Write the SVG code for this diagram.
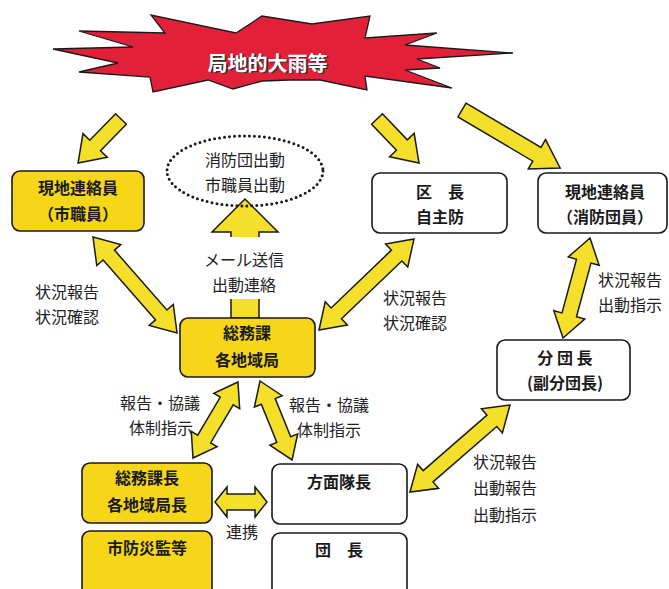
<svg xmlns="http://www.w3.org/2000/svg" width="669" height="589" viewBox="0 0 669 589">
<style>
.box{stroke:#1a1a1a;stroke-width:1.6}
.y{fill:#f5d618}
.w{fill:#ffffff}
.arr{fill:#f4df2a;stroke:#1a1a1a;stroke-width:1.5;stroke-linejoin:miter}
.t{font-family:"Noto Sans CJK JP","Noto Sans CJK SC",sans-serif;font-size:16px;fill:#1a1a1a;text-anchor:middle}
.b{font-weight:700}
.l{font-family:"Noto Sans CJK JP","Noto Sans CJK SC",sans-serif;font-size:16px;fill:#222;text-anchor:middle}
</style>
<rect width="669" height="589" fill="#ffffff"/>
<g id="star">
<polygon points="53,49 133,47 79,31 165,33 151,15 236,33 262,16 312,24 370,16 365,38 437,33 405,45 513,53 417,59 440,68 405,70 452,88 365,76 367,90 320,80 290,80 262,81 233,89 208,80 153,92 150,77 79,72 118,63" fill="#e3203a" stroke="#1a1a1a" stroke-width="1.3" stroke-linejoin="miter"/>
<text x="269" y="72" font-family="'Noto Sans CJK JP',sans-serif" font-size="20" font-weight="700" fill="#333" text-anchor="middle">局地的大雨等</text>
<text x="267.5" y="70.5" font-family="'Noto Sans CJK JP',sans-serif" font-size="20" font-weight="700" fill="#ffffff" text-anchor="middle">局地的大雨等</text>
</g>
<g id="connectors">
<path class="arr" transform="translate(121,119) rotate(134.3)" d="M0,-7.5 L37,-7.5 L37,-17 L61.5,0 L37,17 L37,7.5 L0,7.5Z"/>
<path class="arr" transform="translate(377,119) rotate(46.3)" d="M0,-7.5 L36,-7.5 L36,-17 L60.8,0 L36,17 L36,7.5 L0,7.5Z"/>
<path class="arr" transform="translate(462,110) rotate(30.6)" d="M0,-8 L87,-8 L87,-17 L114,0 L87,17 L87,8 L0,8Z"/>
<path class="arr" transform="translate(93,237) rotate(48.8)" d="M0,0 L24,-16 L24,-7.5 L103.6,-7.5 L103.6,-16 L127.6,0 L103.6,16 L103.6,7.5 L24,7.5 L24,16Z"/>
<path class="arr" transform="translate(319,330) rotate(-43.8)" d="M0,0 L24,-16 L24,-7.5 L107.6,-7.5 L107.6,-16 L131.6,0 L107.6,16 L107.6,7.5 L24,7.5 L24,16Z"/>
<path class="arr" transform="translate(563,338) rotate(-74.9)" d="M0,0 L24,-16 L24,-7.5 L79.6,-7.5 L79.6,-16 L103.6,0 L79.6,16 L79.6,7.5 L24,7.5 L24,16Z"/>
<path class="arr" transform="translate(410,492) rotate(-41)" d="M0,0 L24,-16 L24,-7.5 L108.5,-7.5 L108.5,-16 L132.5,0 L108.5,16 L108.5,7.5 L24,7.5 L24,16Z"/>
<path class="arr" transform="translate(193,458) rotate(-59.4)" d="M0,0 L22,-15 L22,-7.5 L66.3,-7.5 L66.3,-15 L88.3,0 L66.3,15 L66.3,7.5 L22,7.5 L22,15Z"/>
<path class="arr" transform="translate(260,381) rotate(67.9)" d="M0,0 L22,-15 L22,-7.5 L63.2,-7.5 L63.2,-15 L85.2,0 L63.2,15 L63.2,7.5 L22,7.5 L22,15Z"/>
<path class="arr" transform="translate(215,502)" d="M0,0 L12,-15 L12,-8 L40,-8 L40,-15 L52,0 L40,15 L40,8 L12,8 L12,15Z"/>
<path class="arr" d="M231,318 L231,232 L212,232 L245,199 L278,232 L259,232 L259,318 Z"/>
<rect x="196" y="237" width="100" height="62" fill="#ffffff"/>
</g>
<g id="ellipse">
<ellipse cx="245" cy="171" rx="78" ry="35" fill="none" stroke="#1a1a1a" stroke-width="3" stroke-dasharray="0 5" stroke-linecap="round"/>
<text class="l" x="245" y="166">消防団出動</text>
<text class="l" x="245" y="191">市職員出動</text>
</g>
<g id="genchi-shi">
<rect class="box y" x="12" y="171" width="132" height="60" rx="8"/>
<text class="t b" x="78" y="194">現地連絡員</text>
<text class="t b" x="78" y="220">（市職員）</text>
</g>
<g id="kucho">
<rect class="box w" x="372" y="173" width="135" height="60" rx="8"/>
<text class="t b" x="440" y="198">区　長</text>
<text class="t b" x="440" y="223">自主防</text>
</g>
<g id="genchi-shobo">
<rect class="box w" x="538" y="173" width="129" height="60" rx="8"/>
<text class="t b" x="605" y="198">現地連絡員</text>
<text class="t b" x="605" y="223">（消防団員）</text>
</g>
<g id="somuka">
<rect class="box y" x="180" y="318" width="135" height="59" rx="8"/>
<text class="t b" x="247" y="339">総務課</text>
<text class="t b" x="247" y="366">各地域局</text>
</g>
<g id="bundancho">
<rect class="box w" x="497" y="340" width="133" height="60" rx="8"/>
<text class="t b" x="565" y="364">分 団 長</text>
<text class="t b" x="565" y="389">(副分団長)</text>
</g>
<g id="somukacho">
<rect class="box y" x="82" y="463" width="130" height="60" rx="8"/>
<text class="t b" x="147" y="484">総務課長</text>
<text class="t b" x="147" y="511">各地域局長</text>
</g>
<g id="bosaikan">
<rect class="box y" x="82" y="531" width="130" height="70" rx="8"/>
<text class="t b" x="147" y="554">市防災監等</text>
</g>
<g id="homentaicho">
<rect class="box w" x="272" y="464" width="135" height="60" rx="8"/>
<text class="t b" x="339" y="488">方面隊長</text>
</g>
<g id="dancho">
<rect class="box w" x="272" y="533" width="135" height="70" rx="8"/>
<text class="t b" x="339" y="556">団　長</text>
</g>
<g id="labels">
<text class="l" x="67" y="298">状況報告</text>
<text class="l" x="67" y="323">状況確認</text>
<text class="l" x="244" y="266">メール送信</text>
<text class="l" x="244" y="291">出動連絡</text>
<text class="l" x="415" y="304">状況報告</text>
<text class="l" x="415" y="329">状況確認</text>
<text class="l" x="630" y="286">状況報告</text>
<text class="l" x="630" y="311">出動指示</text>
<text class="l" x="160" y="409">報告・協議</text>
<text class="l" x="161" y="434">体制指示</text>
<text class="l" x="329" y="411">報告・協議</text>
<text class="l" x="329" y="436">体制指示</text>
<text class="l" x="473" y="468" text-anchor="start" style="text-anchor:start">状況報告</text>
<text class="l" x="473" y="494" style="text-anchor:start">出動報告</text>
<text class="l" x="473" y="521" style="text-anchor:start">出動指示</text>
<text class="l" x="242" y="538">連携</text>
</g>
</svg>
